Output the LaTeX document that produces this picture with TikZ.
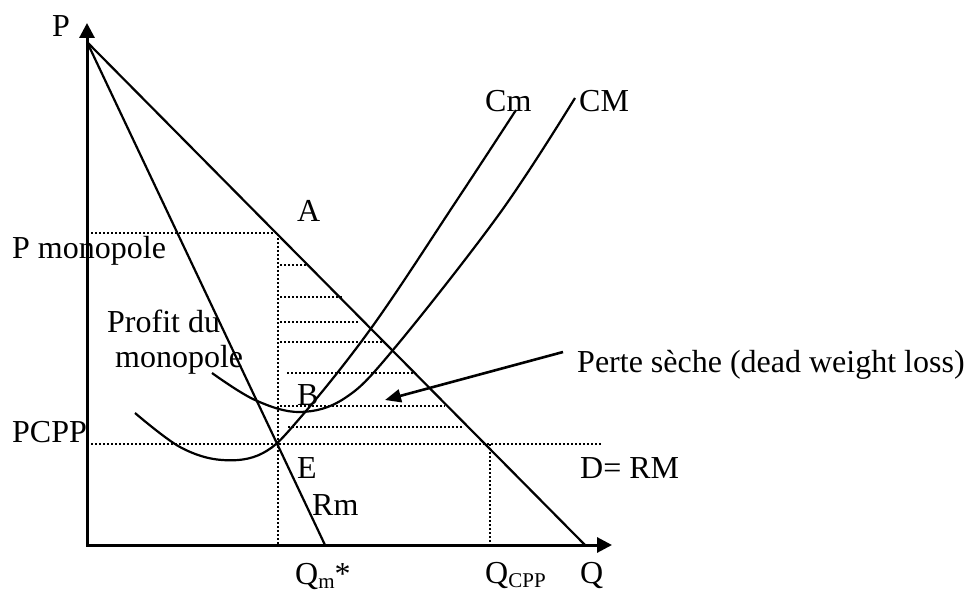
\documentclass[tikz,border=0pt]{standalone}
\usepackage{fontspec}
\setmainfont{Liberation Serif}
\usetikzlibrary{arrows.meta}
\newcommand{\lowsub}[1]{\raisebox{-4pt}{\fontsize{21}{21}\selectfont #1}}
\tikzset{
  axis/.style={line width=3pt, {Triangle[width=15pt,length=15pt]}-{Triangle[width=15pt,length=15pt]}},
  curve/.style={line width=2.2pt},
  guide/.style={line width=1.8pt, dash pattern=on 1.8pt off 2.2pt},
  lbl/.style={anchor=base west, inner sep=0pt, font=\fontsize{32}{36}\selectfont},
  callout/.style={line width=2.6pt, -{Triangle[width=13pt,length=16pt]}},
}
\begin{document}
\begin{tikzpicture}[x=1pt, y=-1pt]
  \useasboundingbox (0,0) rectangle (968,594);

  % key points
  \coordinate (O)     at (87,545);
  \coordinate (Ytip)  at (87,23);
  \coordinate (Xtip)  at (612,545);
  \coordinate (Ptop)  at (87,42);
  \coordinate (Dend)  at (585,545);
  \coordinate (Rmend) at (325,545);
  \coordinate (A)     at (278,233);
  \coordinate (E)     at (278,444);
  \coordinate (C)     at (490,444);

  % axes, demand and marginal revenue
  \draw [axis]  (Ytip) -- (O) -- (Xtip);
  \draw [curve] (Ptop) -- (Dend);
  \draw [curve] (Ptop) -- (Rmend);

  % guide lines
  \draw [guide] (87,233) -- (A) -- (278,545);
  \draw [guide] (87,444) -- (602,444);
  \draw [guide] (C) -- (490,545);
  \foreach \y/\xa/\xb in {265/280/307, 297/280/342, 322/280/358, 342/280/385,
                          373/287/413, 406/280/445, 427/288/462}
    \draw [guide] (\xa,\y) -- (\xb,\y);

  % cost curves
  \draw [curve] plot [smooth, tension=0.6] coordinates {(135,413) (180,447) (222,460)
    (263,453) (300,418) (372,327) (457,200) (516,110)};
  \draw [curve] plot [smooth, tension=0.6] coordinates {(212,373) (255,400) (300,412)
    (345,398) (393,350) (500,213) (575,98)};

  % labels
  \node (p)     [lbl] at (52,37)   {P};
  \node (pm)    [lbl] at (12,258)  {P monopole};
  \node (prof1) [lbl] at (107,332) {Profit du};
  \node (prof2) [lbl] at (115,367) {monopole};
  \node (pcpp)  [lbl] at (12,442)  {PCPP};
  \node (a)     [lbl] at (297,221) {A};
  \node (b)     [lbl] at (297,405) {B};
  \node (e)     [lbl] at (297,478) {E};
  \node (rm)    [lbl] at (312,515) {Rm};
  \node (cm)    [lbl] at (485,111) {Cm};
  \node (cM)    [lbl] at (579,111) {CM};
  \node (drm)   [lbl] at (580,478) {D= RM};
  \node (loss)  [lbl] at (577,372) {Perte sèche (dead weight loss)};
  \node (qm)    [lbl] at (295,584) {Q\lowsub{m}*};
  \node (qcpp)  [lbl] at (485,583) {Q\lowsub{CPP}};
  \node (q)     [lbl] at (580,583) {Q};

  % dead weight loss pointer
  \coordinate (lossTail) at (563,352);
  \coordinate (lossTip)  at (385,400);
  \draw [callout] (lossTail) -- (lossTip);
\end{tikzpicture}
\end{document}
